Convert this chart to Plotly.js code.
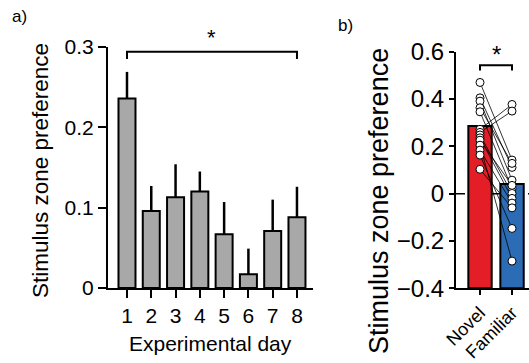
<!DOCTYPE html>
<html>
<head>
<meta charset="utf-8">
<script src="https://cdn.plot.ly/plotly-3.0.1.min.js"></script>
<style>html,body{margin:0;padding:0;background:#fff;overflow:hidden}</style>
</head>
<body>
<div id="chart" style="width:529px;height:363px"></div>
<script>
// ---- Panel a) data ----
const days = [1, 2, 3, 4, 5, 6, 7, 8];
const dayMeans = [0.236, 0.096, 0.113, 0.120, 0.067, 0.017, 0.071, 0.088];
const dayErr = [0.033, 0.031, 0.041, 0.025, 0.040, 0.032, 0.039, 0.038];
const bracketA = [1, 8];
const bracketAY = 0.294;

// ---- Panel b) data ----
const groups = ['Novel', 'Familiar'];
const groupMeans = [0.286, 0.041];
const novelVals =    [0.470, 0.405, 0.391, 0.363, 0.346, 0.272, 0.259, 0.248, 0.236, 0.226, 0.205, 0.184, 0.163, 0.103];
const familiarVals = [0.142, 0.111, 0.057, 0.128, 0.022, 0.377, 0.349, 0.001, -0.020, 0.035, -0.285, -0.040, -0.147, -0.060];
const bracketBY = 0.543;
const yRangeB = [-0.4, 0.6];

const FONT = 'Liberation Sans, Arial, sans-serif';
const W = 529, H = 363;
const px = v => v / W;
const py = v => (H - v) / H;

// paired lines
const pairX = [], pairY = [];
novelVals.forEach((v, i) => {
  pairX.push(groups[0], groups[1], null);
  pairY.push(v, familiarVals[i], null);
});
const ptsX = novelVals.map(() => groups[0]).concat(familiarVals.map(() => groups[1]));
const ptsY = novelVals.concat(familiarVals);

const traces = [
  {
    type: 'bar', x: days, y: dayMeans, width: 0.7,
    marker: {color: '#a8a8a8', line: {color: '#000', width: 2}},
    error_y: {type: 'data', symmetric: false, array: dayErr, arrayminus: dayErr.map(() => 0),
              color: '#000', thickness: 2.5, width: 0},
    xaxis: 'x', yaxis: 'y', hoverinfo: 'skip'
  },
  {
    type: 'scatter', mode: 'lines',
    x: [bracketA[0], bracketA[0], bracketA[1], bracketA[1]],
    y: [bracketAY - 0.009, bracketAY, bracketAY, bracketAY - 0.009],
    line: {color: '#000', width: 2}, xaxis: 'x', yaxis: 'y', hoverinfo: 'skip'
  },
  {
    // bars drawn from the bottom of the axis up to the group mean
    type: 'bar', x: groups, base: yRangeB[0], y: groupMeans.map(v => v - yRangeB[0]), width: 0.73,
    marker: {color: ['#e31e26', '#2b6cb5'], line: {color: '#000', width: 2}},
    xaxis: 'x2', yaxis: 'y2', hoverinfo: 'skip'
  },
  {
    type: 'scatter', mode: 'lines', x: pairX, y: pairY, connectgaps: false,
    line: {color: '#000', width: 0.8}, xaxis: 'x2', yaxis: 'y2', hoverinfo: 'skip'
  },
  {
    type: 'scatter', mode: 'markers', x: ptsX, y: ptsY,
    marker: {size: 8, color: '#fff', line: {color: '#000', width: 1}},
    xaxis: 'x2', yaxis: 'y2', hoverinfo: 'skip', cliponaxis: false
  },
  {
    type: 'scatter', mode: 'lines',
    x: [groups[0], groups[0], groups[1], groups[1]],
    y: [bracketBY - 0.022, bracketBY, bracketBY, bracketBY - 0.022],
    line: {color: '#000', width: 2}, xaxis: 'x2', yaxis: 'y2', hoverinfo: 'skip'
  }
];

const axisCommon = {
  showline: true, linecolor: '#000', linewidth: 2, ticks: 'outside',
  tickcolor: '#000', tickwidth: 2, showgrid: false, zeroline: false, fixedrange: true
};

const layout = {
  width: W, height: H, margin: {l: 0, r: 0, t: 0, b: 0},
  paper_bgcolor: '#fff', plot_bgcolor: 'rgba(0,0,0,0)', showlegend: false,
  font: {family: FONT, color: '#000'},
  xaxis: Object.assign({}, axisCommon, {
    domain: [px(108), px(313)], range: [0.218, 8.66], tickvals: days,
    ticklen: 8, tickfont: {size: 21, family: FONT}, anchor: 'y'
  }),
  yaxis: Object.assign({}, axisCommon, {
    domain: [py(288), py(47)], range: [0, 0.3], tickvals: [0, 0.1, 0.2, 0.3],
    ticktext: ['0', '0.1', '0.2', '0.3'], ticklen: 8, tickfont: {size: 21, family: FONT}, anchor: 'x'
  }),
  xaxis2: Object.assign({}, axisCommon, {
    domain: [px(456), 1], type: 'category', categoryarray: groups, range: [-0.75, 1.53],
    tickangle: -45, ticklen: 5, tickfont: {size: 18, family: FONT}, anchor: 'y2'
  }),
  yaxis2: Object.assign({}, axisCommon, {
    domain: [py(288.3), py(51.7)], range: yRangeB, tickvals: [-0.4, -0.2, 0, 0.2, 0.4, 0.6],
    ticktext: ['\u22120.4', '\u22120.2', '0', '0.2', '0.4', '0.6'],
    ticklen: 5, tickfont: {size: 24, family: FONT}, anchor: 'x2'
  }),
  shapes: [
    {type: 'line', xref: 'x2 domain', yref: 'y2', x0: 0, x1: 1, y0: 0, y1: 0,
     line: {color: '#000', width: 1.5, dash: 'dash'}, layer: 'below'}
  ],
  annotations: [
    {text: 'a)', xref: 'paper', yref: 'paper', x: px(19), y: py(16), showarrow: false,
     font: {size: 17}, xanchor: 'center', yanchor: 'middle'},
    {text: 'b)', xref: 'paper', yref: 'paper', x: px(345), y: py(25), showarrow: false,
     font: {size: 17}, xanchor: 'center', yanchor: 'middle'},
    {text: '*', xref: 'x', yref: 'y', x: (bracketA[0] + bracketA[1]) / 2, y: bracketAY, showarrow: false,
     font: {size: 22}, yanchor: 'bottom', yshift: 0},
    {text: '*', xref: 'x2', yref: 'y2', x: 0.5, y: bracketBY, showarrow: false,
     font: {size: 24}, yanchor: 'bottom', yshift: -5},
    {text: 'Stimulus zone preference', xref: 'paper', yref: 'paper', x: px(40), y: py(171),
     textangle: -90, showarrow: false, font: {size: 22.5}, xanchor: 'center', yanchor: 'middle'},
    {text: 'Experimental day', xref: 'paper', yref: 'paper', x: px(210), y: py(343),
     showarrow: false, font: {size: 21}, xanchor: 'center', yanchor: 'middle'},
    {text: 'Stimulus zone preference', xref: 'paper', yref: 'paper', x: px(379), y: py(201),
     textangle: -90, showarrow: false, font: {size: 27}, xanchor: 'center', yanchor: 'middle'}
  ]
};

Plotly.newPlot('chart', traces, layout, {staticPlot: true, displayModeBar: false});
</script>
</body>
</html>
